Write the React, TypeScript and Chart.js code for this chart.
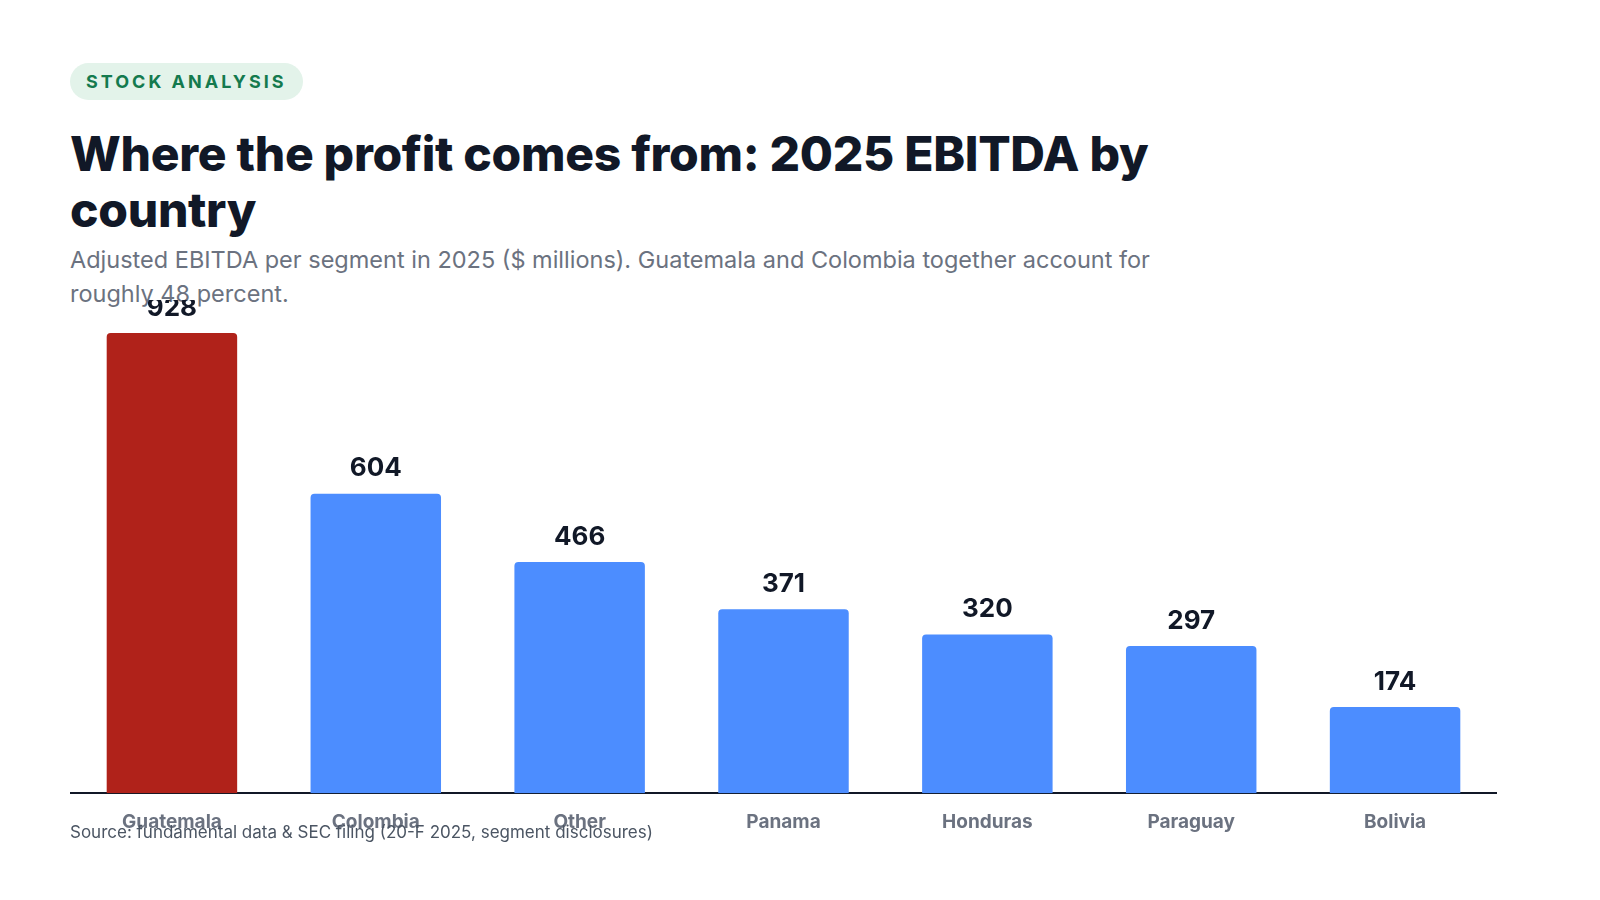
import React, { useEffect, useRef } from "react";
import { Chart, registerables } from "chart.js";
Chart.register(...registerables);

const categories = ["Guatemala", "Colombia", "Other", "Panama", "Honduras", "Paraguay", "Bolivia"];
const ebitda = [928, 604, 466, 371, 320, 297, 174];
const barColors = ["#B0221A", "#4C8DFF", "#4C8DFF", "#4C8DFF", "#4C8DFF", "#4C8DFF", "#4C8DFF"];

const FONT = "Inter, 'Noto Sans', sans-serif";

export default function App() {
  const ref = useRef<HTMLCanvasElement>(null);
  useEffect(() => {
    const labelPlugin = {
      id: "vlabels",
      afterDatasetsDraw(chart: any) {
        const ctx = chart.ctx;
        const meta = chart.getDatasetMeta(0);
        ctx.save();
        ctx.font = `700 26px ${FONT}`;
        ctx.fillStyle = "#111827";
        ctx.textAlign = "center";
        ctx.textBaseline = "middle";
        meta.data.forEach((b: any, i: number) => {
          ctx.fillText(String(ebitda[i]), b.x, b.y - 25);
        });
        ctx.restore();
      },
    };
    const chart = new Chart(ref.current!, {
      type: "bar",
      data: {
        labels: categories,
        datasets: [{
          data: ebitda,
          backgroundColor: barColors,
          barPercentage: 0.64,
          categoryPercentage: 1,
          borderRadius: { topLeft: 4, topRight: 4 },
          borderSkipped: "bottom",
        }],
      },
      options: {
        animation: false,
        responsive: false,
        maintainAspectRatio: false,
        layout: { padding: { top: 33, bottom: 6, left: 0, right: 0 } },
        plugins: { legend: { display: false }, tooltip: { enabled: false } },
        scales: {
          y: { display: false, min: 0, max: 928 },
          x: {
            grid: { display: false },
            border: { display: true, color: "#111827", width: 2 },
            ticks: { color: "#6b7280", font: { family: FONT, size: 19, weight: "bold" }, padding: 10 },
          },
        },
      },
      plugins: [labelPlugin],
    });
    return () => chart.destroy();
  }, []);

  return (
    <div style={{ position: "relative", width: 1584, height: 884, fontFamily: FONT }}>
      <div style={{ position: "absolute", left: 62, top: 55, height: 37, padding: "0 16px", borderRadius: 19, background: "#E3F3EA", color: "#147A4E", fontWeight: 700, fontSize: 18, letterSpacing: 3, lineHeight: "37px" }}>STOCK ANALYSIS</div>
      <div style={{ position: "absolute", left: 62, top: 118, width: 1250, fontSize: 48, fontWeight: 800, color: "#111827", lineHeight: "56px", letterSpacing: -0.3 }}>
        Where the profit comes from: 2025 EBITDA by country
      </div>
      <div style={{ position: "absolute", left: 62, top: 235, width: 1140, fontSize: 23.5, color: "#6b7280", lineHeight: "34px" }}>
        Adjusted EBITDA per segment in 2025 ($ millions). Guatemala and Colombia together account for roughly 48 percent.
      </div>
      <canvas ref={ref} width={1427} height={550} style={{ position: "absolute", left: 62, top: 292, width: 1427, height: 550 }} />
      <div style={{ position: "absolute", left: 62, top: 814, fontSize: 17, color: "#4b5563" }}>
        Source: fundamental data &amp; SEC filing (20-F 2025, segment disclosures)
      </div>
    </div>
  );
}
